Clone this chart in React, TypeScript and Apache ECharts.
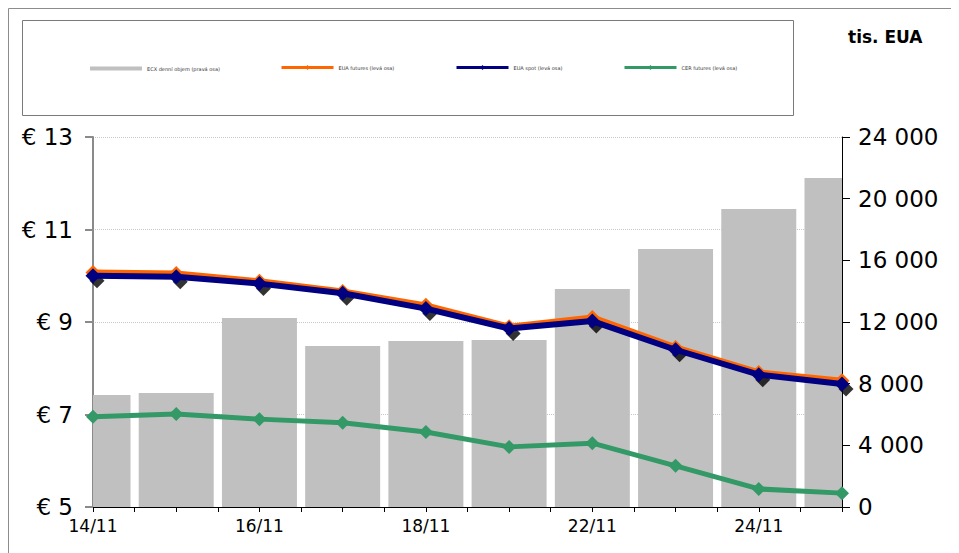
import React, { useEffect, useRef } from "react";
import * as echarts from "echarts";

const dates = ["14/11", "15/11", "16/11", "17/11", "18/11", "21/11", "22/11", "23/11", "24/11", "25/11"];
const ecxVolume = [7270, 7400, 12260, 10440, 10770, 10830, 14140, 16730, 19330, 21340];
const euaFutures = [10.07, 10.05, 9.88, 9.66, 9.36, 8.9, 9.1, 8.45, 7.91, 7.73];
const euaSpot = [10.0, 9.98, 9.83, 9.62, 9.29, 8.86, 9.02, 8.4, 7.86, 7.66];
const cerFutures = [6.95, 7.01, 6.9, 6.82, 6.62, 6.3, 6.38, 5.89, 5.39, 5.3];
const leftTicks = { min: 5, max: 13, interval: 2 };
const rightTicks = { min: 0, max: 24000, interval: 4000 };

const names = [
  "ECX denní objem (pravá osa)",
  "EUA futures (levá osa)",
  "EUA spot (levá osa)",
  "CER futures (levá osa)",
];

const FONT = "DejaVu Sans";
const BAR_WIDTH = 75;

export default function App() {
  const ref = useRef<HTMLDivElement>(null);
  useEffect(() => {
    document.body.style.overflow = "hidden";
    document.documentElement.style.overflow = "hidden";
    const chart = echarts.init(ref.current!, undefined, { renderer: "svg" });
    const pts = (arr: number[]) => arr.map((v, i) => [i, v]);
    const legendBase = {
      top: 57,
      padding: 0,
      itemWidth: 52,
      itemHeight: 6,
      itemGap: 4,
      textStyle: { fontSize: 5, color: "#333", fontFamily: FONT },
      lineStyle: { width: 3 },
      selectedMode: false,
    };
    chart.setOption({
      animation: false,
      backgroundColor: "#fff",
      textStyle: { fontFamily: FONT },
      graphic: [
        {
          type: "rect",
          shape: { x: 0.5, y: 0.5, width: 944, height: 600 },
          style: { fill: "none", stroke: "#8c8c8c", lineWidth: 1 },
          silent: true,
        },
        {
          type: "rect",
          shape: { x: 14.5, y: 12.5, width: 771, height: 95 },
          style: { fill: "none", stroke: "#7a7a7a", lineWidth: 1 },
          silent: true,
        },
        {
          type: "text",
          left: 840,
          top: 20,
          style: { text: "tis. EUA", font: `bold 17px '${FONT}'`, fill: "#000" },
        },
      ],
      legend: [
        { ...legendBase, left: 82, data: [{ name: names[0], icon: "rect", itemStyle: { color: "#c0c0c0" } }], itemHeight: 4, top: 58 },
        { ...legendBase, left: 272, data: [names[1]] },
        { ...legendBase, left: 447, data: [names[2]] },
        { ...legendBase, left: 615, data: [names[3]] },
      ],
      grid: { left: 85, right: 112, top: 129, bottom: 46, containLabel: false },
      xAxis: {
        type: "value",
        min: 0,
        max: dates.length - 1,
        interval: 0.5,
        splitLine: { show: false },
        axisLine: { lineStyle: { color: "#000", width: 1 } },
        axisTick: { show: true, length: 5, lineStyle: { color: "#000" } },
        axisLabel: {
          fontSize: 17,
          color: "#000",
          margin: 10,
          formatter: (v: number) => (Number.isInteger(v) && v % 2 === 0 ? dates[v] : ""),
        },
      },
      yAxis: [
        {
          type: "value",
          ...leftTicks,
          position: "left",
          axisLine: { show: true, lineStyle: { color: "#8a8a8a", width: 2 } },
          axisTick: { show: true, length: 8, lineStyle: { color: "#8a8a8a", width: 2 } },
          splitLine: { show: true, lineStyle: { color: "#c8c8c8", type: "dotted", width: 1 } },
          axisLabel: { fontSize: 23, color: "#000", margin: 20, formatter: (v: number) => "€ " + v },
        },
        {
          type: "value",
          ...rightTicks,
          position: "right",
          axisLine: { show: true, lineStyle: { color: "#000", width: 1 } },
          axisTick: { show: true, length: 8, lineStyle: { color: "#000" } },
          splitLine: { show: false },
          axisLabel: {
            fontSize: 23,
            color: "#000",
            margin: 16,
            formatter: (v: number) => String(v).replace(/\B(?=(\d{3})+(?!\d))/g, " "),
          },
        },
      ],
      series: [
        {
          name: names[0],
          type: "custom",
          yAxisIndex: 1,
          data: pts(ecxVolume),
          encode: { x: 0, y: 1 },
          itemStyle: { color: "#c0c0c0" },
          z: 1,
          renderItem: (params: any, api: any) => {
            const x = api.value(0);
            const y = api.value(1);
            const top = api.coord([x, y]);
            const base = api.coord([x, 0]);
            const cs = params.coordSys;
            const rect = echarts.graphic.clipRectByRect(
              { x: top[0] - BAR_WIDTH / 2, y: top[1], width: BAR_WIDTH, height: base[1] - top[1] },
              { x: cs.x, y: cs.y, width: cs.width, height: cs.height }
            );
            return rect && { type: "rect", shape: rect, style: { fill: "#c0c0c0" } };
          },
        },
        {
          name: names[3],
          type: "line",
          data: pts(cerFutures),
          symbol: "diamond",
          symbolSize: 14,
          lineStyle: { color: "#339966", width: 5 },
          itemStyle: { color: "#339966" },
          z: 3,
        },
        {
          name: names[1],
          type: "line",
          data: pts(euaFutures),
          symbol: "diamond",
          symbolSize: 15,
          lineStyle: { color: "#ff6600", width: 6 },
          itemStyle: { color: "#ff6600" },
          z: 4,
        },
        {
          name: "shadow",
          type: "scatter",
          data: pts(euaSpot),
          symbol: "diamond",
          symbolSize: 15,
          symbolOffset: [4, 5],
          itemStyle: { color: "#000" },
          z: 5,
        },
        {
          name: names[2],
          type: "line",
          data: pts(euaSpot),
          symbol: "diamond",
          symbolSize: 15,
          lineStyle: { color: "#000080", width: 6 },
          itemStyle: { color: "#000080" },
          z: 6,
        },
      ],
    });
    return () => chart.dispose();
  }, []);
  return <div ref={ref} style={{ width: 946, height: 545 }} />;
}
